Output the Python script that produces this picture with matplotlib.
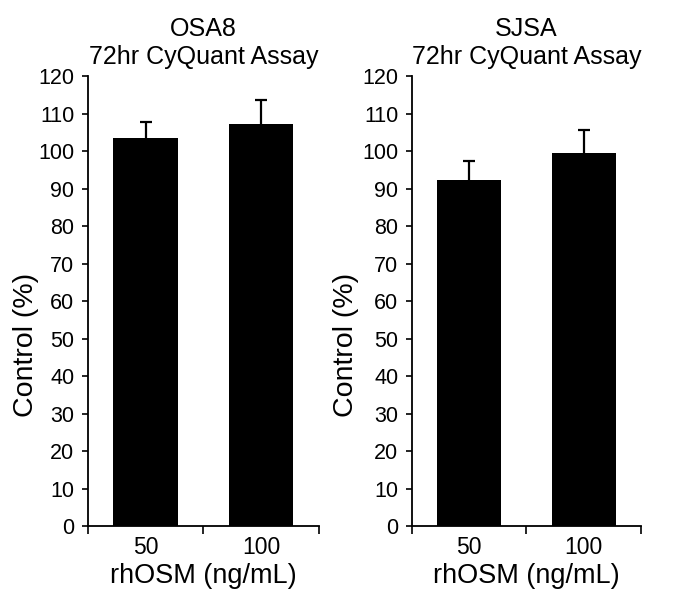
import numpy as np
import matplotlib.pyplot as plt

plt.rcParams['font.family'] = ['Liberation Sans', 'DejaVu Sans']

# data
doses = ['50', '100']
osa8_mean = [103.5, 107.1]
osa8_err = [4.3, 6.4]
sjsa_mean = [92.3, 99.6]
sjsa_err = [5.0, 6.0]
titles = ['OSA8\n72hr CyQuant Assay', 'SJSA\n72hr CyQuant Assay']

fig = plt.figure(figsize=(6.85, 5.98), dpi=100)
ax1 = fig.add_axes([0.1285, 0.1204, 0.337, 0.7525])
ax2 = fig.add_axes([0.6015, 0.1204, 0.334, 0.7525])

for ax, means, errs, title, lx in [(ax1, osa8_mean, osa8_err, titles[0], -0.212),
                                   (ax2, sjsa_mean, sjsa_err, titles[1], -0.231)]:
    x = np.arange(len(doses))
    ax.bar(x, means, width=0.56, color='black')
    # upper error only, no cap at the bar top
    tops = np.array(means) + np.array(errs)
    ax.vlines(x, means, tops, color='black', linewidth=1.6)
    ax.plot(x, tops, linestyle='none', marker='_', markersize=8,
            markeredgewidth=1.6, color='black')
    ax.set_xlim(-0.5, len(doses) - 0.5)
    ax.set_ylim(0, 120)
    ax.set_yticks(np.arange(0, 121, 10))
    ax.set_xticks(x)
    ax.set_xticklabels(doses)
    ax.set_xticks([-0.5, 0.5, 1.5], minor=True)
    ax.tick_params(axis='x', which='major', length=0, labelsize=16.5, pad=7)
    ax.tick_params(axis='x', which='minor', length=6, width=1.2, direction='out')
    ax.tick_params(axis='y', length=4, width=1.2, labelsize=15.5, pad=6)
    for s in ['top', 'right']:
        ax.spines[s].set_visible(False)
    for s in ['left', 'bottom']:
        ax.spines[s].set_linewidth(1.3)
    ax.set_title(title, fontsize=18, linespacing=1.2, pad=9)
    ax.set_ylabel('Control (%)', fontsize=20.5)
    ax.yaxis.set_label_coords(lx, 0.402)
    ax.set_xlabel('rhOSM (ng/mL)', fontsize=19.5, labelpad=3)

fig.savefig('out.png', dpi=100)
